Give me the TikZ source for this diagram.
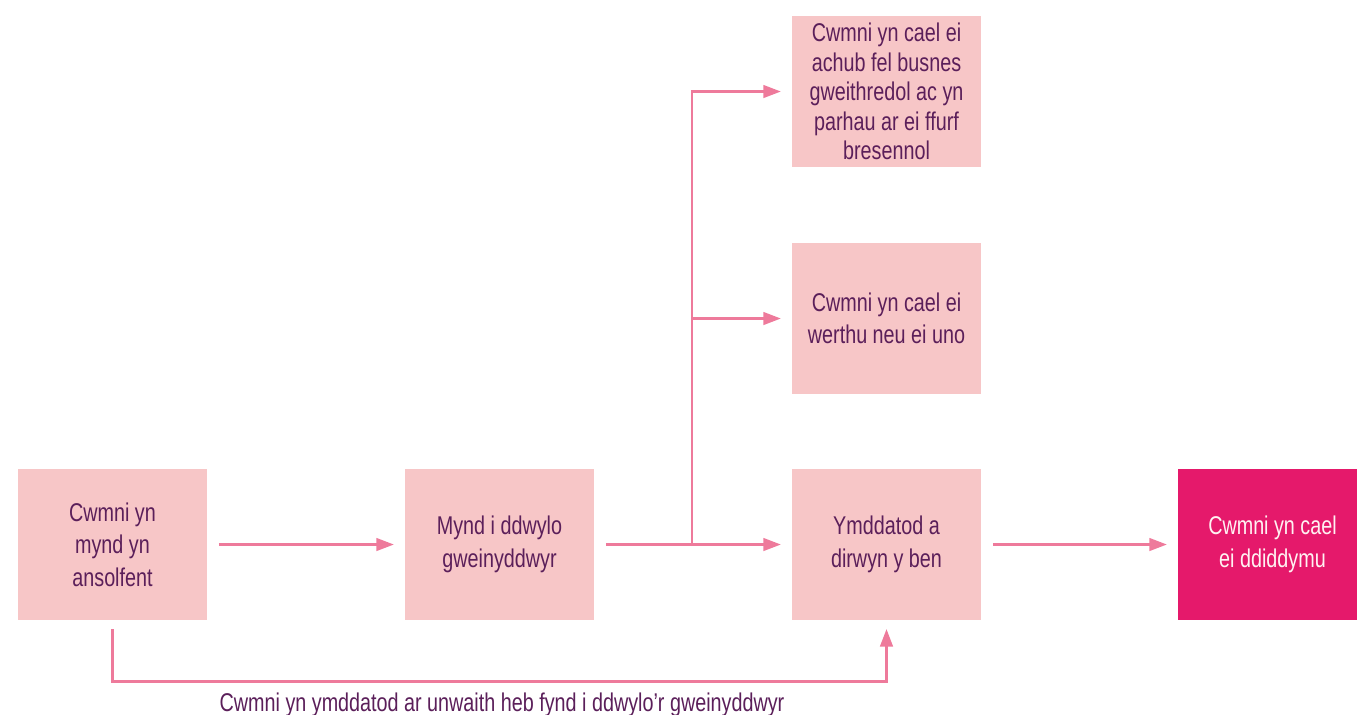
\documentclass[tikz,border=0pt]{standalone}
\usepackage{fontspec}
\setmainfont{Liberation Sans}[FakeStretch=0.77]
\usetikzlibrary{arrows.meta}
\definecolor{boxpink}{HTML}{F7C6C7}
\definecolor{deeppink}{HTML}{E5196B}
\definecolor{linkpink}{HTML}{EE7A9B}
\definecolor{plum}{HTML}{5B1F5A}

\begin{document}
\begin{tikzpicture}[x=0.01cm,y=-0.01cm,->,>={Triangle[length=5pt,width=3.6pt]},
line width=0.7pt,
link/.style={color=linkpink},
stage node/.style={rectangle,fill=boxpink,text=plum,align=center,minimum width=1.89cm,minimum height=1.51cm,inner sep=0pt,font=\fontsize{7.3}{9.2}\selectfont},
final node/.style={stage node,fill=deeppink,text=pink!20}]
\useasboundingbox (0,0) rectangle (1357,714);

% Main row
  \node[stage node] (insolvent) at (112.5,544.5) {Cwmni yn\\mynd yn\\ansolfent};
  \node[stage node] (admin) at (499.5,544.5) {Mynd i ddwylo\\gweinyddwyr};
  \node[stage node] (liquid) at (886.5,544.5) {Ymddatod a\\dirwyn y ben};
  \node[final node] (dissolved) at (1272.5,544.5) {Cwmni yn cael\\ei ddiddymu};

% Outcomes of administration
  \node[stage node,font=\fontsize{7.3}{8.4}\selectfont] (rescued) at (886.5,91.5) {Cwmni yn cael ei\\achub fel busnes\\gweithredol ac yn\\parhau ar ei ffurf\\bresennol};
  \node[stage node] (sold) at (886.5,318.5) {Cwmni yn cael ei\\werthu neu ei uno};

  \coordinate (split) at (692,544.5);

  \draw[link,shorten <=3pt,shorten >=2.8pt] (insolvent) -- (admin);
  \draw[link,shorten <=3pt,shorten >=2.8pt] (liquid) -- (dissolved);

  \draw[-,link,shorten <=3pt] (admin) -- (split);
  \draw[link,shorten >=2.8pt] (split) -- (liquid);
  \draw[link,shorten >=2.8pt] (split) |- (sold);
  \draw[link,shorten >=2.8pt] (split) |- (rescued);

% Straight to liquidation
  \draw[link,shorten <=2.2pt,shorten >=2.2pt] (insolvent.south) -- ++(0,60) -| (liquid.south);
  \node[text=plum,font=\fontsize{7.3}{9.2}\selectfont] (direct) at (502,705) {Cwmni yn ymddatod ar unwaith heb fynd i ddwylo’r gweinyddwyr};

\end{tikzpicture}
\end{document}
